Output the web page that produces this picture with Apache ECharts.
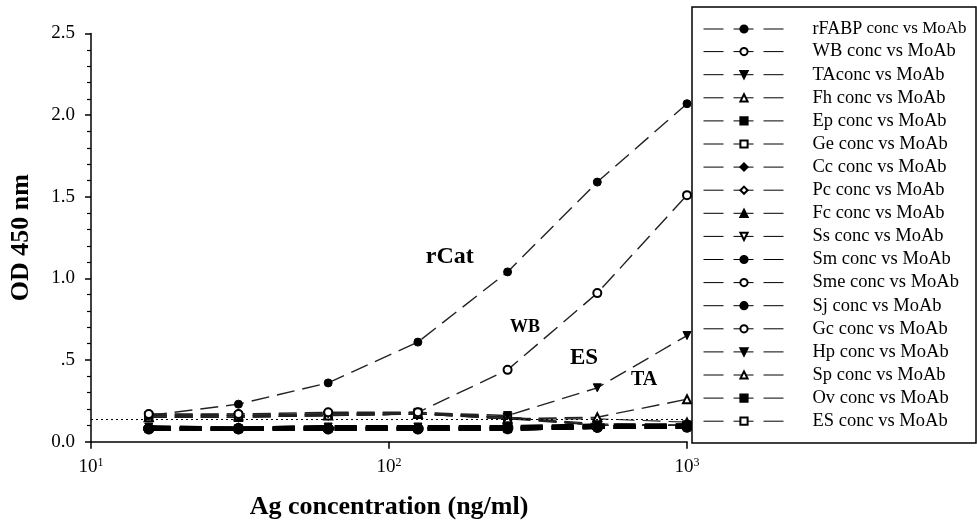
<!DOCTYPE html>
<html>
<head>
<meta charset="utf-8">
<script src="https://cdn.jsdelivr.net/npm/echarts@6/dist/echarts.min.js"></script>
<style>html,body{margin:0;padding:0;background:#fff}#c{width:977px;height:526px}</style>
</head>
<body>
<div id="c"></div>
<script>
// Ag concentrations (ng/ml), two-fold dilutions
const conc = [15.625, 31.25, 62.5, 125, 250, 500, 1000];
const xTicks = [10, 100, 1000];
const yTicks = [0, 0.5, 1.0, 1.5, 2.0, 2.5];
const cutoff = 0.14;

// OD 450 nm readings
const rFABP = [0.16, 0.23, 0.36, 0.61, 1.04, 1.59, 2.07];
const WB    = [0.17, 0.17, 0.18, 0.18, 0.44, 0.91, 1.51];
const TA    = [0.16, 0.16, 0.17, 0.18, 0.16, 0.33, 0.65];
const Fh    = [0.15, 0.16, 0.16, 0.17, 0.14, 0.15, 0.26];
const Ep    = [0.08, 0.08, 0.08, 0.08, 0.08, 0.09, 0.09];
const Ge    = [0.15, 0.15, 0.16, 0.17, 0.15, 0.10, 0.10];
const Cc    = [0.08, 0.08, 0.09, 0.08, 0.08, 0.09, 0.09];
const Pc    = [0.16, 0.16, 0.17, 0.17, 0.15, 0.10, 0.10];
const Fc    = [0.08, 0.08, 0.08, 0.08, 0.08, 0.09, 0.09];
const Ss    = [0.15, 0.15, 0.16, 0.17, 0.15, 0.10, 0.10];
const Sm    = [0.08, 0.08, 0.08, 0.08, 0.08, 0.09, 0.09];
const Sme   = [0.17, 0.16, 0.17, 0.18, 0.15, 0.11, 0.10];
const Sj    = [0.08, 0.08, 0.08, 0.08, 0.09, 0.09, 0.10];
const Gc    = [0.16, 0.17, 0.17, 0.18, 0.15, 0.10, 0.10];
const Hp    = [0.09, 0.08, 0.09, 0.09, 0.09, 0.10, 0.10];
const Sp    = [0.15, 0.15, 0.16, 0.17, 0.14, 0.14, 0.12];
const Ov    = [0.08, 0.08, 0.08, 0.08, 0.08, 0.09, 0.09];
const ES    = [0.15, 0.15, 0.16, 0.17, 0.14, 0.10, 0.10];

const names = ['rFABP conc vs MoAb','WB conc vs MoAb','TAconc vs MoAb','Fh conc vs MoAb','Ep conc vs MoAb','Ge conc vs MoAb','Cc conc vs MoAb','Pc conc vs MoAb','Fc conc vs MoAb','Ss conc vs MoAb','Sm conc vs MoAb','Sme conc vs MoAb','Sj conc vs MoAb','Gc conc vs MoAb','Hp conc vs MoAb','Sp conc vs MoAb','Ov conc vs MoAb','ES conc vs MoAb'];
const values = [rFABP, WB, TA, Fh, Ep, Ge, Cc, Pc, Fc, Ss, Sm, Sme, Sj, Gc, Hp, Sp, Ov, ES];

// annotation labels: text and data coordinates
const annText = ['rCat', 'WB', 'ES', 'TA'];
const annX = [160, 286, 451, 718];
const annY = [1.13, 0.70, 0.51, 0.38];

// styling per series
const sym = ['circle','emptyCircle','triangle','emptyTriangle','rect','emptyRect','diamond','emptyDiamond','triangle','emptyTriangle','circle','emptyCircle','circle','emptyCircle','triangle','emptyTriangle','rect','emptyRect'];
const rot = [0,0,180,0,0,0,0,0,0,180,0,0,0,0,180,0,0,0];
const low = [false,false,false,false,true,false,true,false,true,false,true,false,true,false,true,false,true,false];
const layer = [2.6,2.8,2.7,2.5,3,2,3,2,3,2,4,2,4,2,3,2,3,2];
const symSize = [8,8,8,8,7,7,8,7,8,7,10.5,7,10.5,7,8,7,7,7];

const F = '"Liberation Serif", "Times New Roman", serif';

const series = names.map((n, i) => {
  const s = {
    name: n,
    type: 'line',
    data: conc.map((x, j) => [x, values[i][j]]),
    symbol: sym[i],
    symbolRotate: rot[i],
    symbolSize: symSize[i],
    showSymbol: true,
    itemStyle: { color: '#000', borderColor: '#000', borderWidth: 1 },
    lineStyle: { color: low[i] ? '#000' : '#222', width: low[i] ? 4 : (i < 4 ? 1.4 : 1.1), type: low[i] ? [22, 9] : [18, 8] },
    z: layer[i],
    animation: false,
    silent: true
  };
  if (i === 0) {
    s.markLine = {
      silent: true, symbol: ['none','none'], animation: false,
      label: { show: false },
      lineStyle: { type: [2, 3], color: '#000', width: 1 },
      data: [{ yAxis: cutoff }]
    };
    s.markPoint = {
      symbol: 'circle', symbolSize: 0, animation: false,
      data: annText.map((t, k) => ({
        coord: [annX[k], annY[k]],
        label: { show: true, formatter: t, color: '#000', fontFamily: F, fontWeight: 'bold',
                 fontSize: [24, 18, 23, 20][k], position: 'inside' }
      }))
    };
  }
  return s;
});

const chart = echarts.init(document.getElementById('c'), null, { renderer: 'canvas' });
chart.setOption({
  backgroundColor: '#fff',
  animation: false,
  grid: { left: 91, right: 290, top: 33.5, bottom: 84.3, containLabel: false },
  xAxis: {
    type: 'log', logBase: 10, min: xTicks[0], max: xTicks[xTicks.length - 1],
    name: 'Ag concentration (ng/ml)', nameLocation: 'middle', nameGap: 53,
    nameTextStyle: { fontFamily: F, fontWeight: 'bold', fontSize: 26, color: '#000' },
    axisLine: { lineStyle: { color: '#000', width: 1.5 } },
    axisTick: { show: true, length: 7, lineStyle: { color: '#000', width: 1.5 } },
    minorTick: { show: false },
    splitLine: { show: false },
    axisLabel: {
      margin: 15, color: '#000', fontFamily: F, fontSize: 19,
      formatter: v => '10{s|' + Math.round(Math.log10(v)) + '}',
      rich: { s: { fontFamily: F, fontSize: 12, color: '#000', verticalAlign: 'bottom', padding: [0, 0, 8, 0] } }
    }
  },
  yAxis: {
    type: 'value', min: yTicks[0], max: yTicks[yTicks.length - 1], interval: 0.5,
    name: 'OD 450 nm', nameLocation: 'middle', nameGap: 57, nameRotate: 90,
    nameTextStyle: { fontFamily: F, fontWeight: 'bold', fontSize: 26, color: '#000' },
    axisLine: { show: true, lineStyle: { color: '#000', width: 1.5 } },
    axisTick: { show: true, length: 6, lineStyle: { color: '#000', width: 1.5 } },
    minorTick: { show: true, splitNumber: 5, length: 4, lineStyle: { color: '#000', width: 1.2 } },
    splitLine: { show: false },
    axisLabel: {
      margin: 16, color: '#000', fontFamily: F, fontSize: 19,
      formatter: v => (v === 0.5 ? '.5' : v.toFixed(1))
    }
  },
  legend: {
    show: true, orient: 'vertical', left: 703, top: 20,
    padding: 0, itemGap: 4.1, itemWidth: 81, itemHeight: 9,
    selectedMode: false, z: 10,
    data: names,
    lineStyle: { color: '#000', width: 1, type: [20, 10] },
    textStyle: { fontFamily: F, fontSize: 18.5, color: '#000', lineHeight: 18, padding: [0, 0, 0, 23],
      rich: { a: { fontFamily: F, fontSize: 18, color: '#000', lineHeight: 18 },
              b: { fontFamily: F, fontSize: 17, color: '#000', lineHeight: 18 } } },
    formatter: n => n === names[0] ? '{a|rFABP}{b| conc vs MoAb}' : n
  },
  graphic: [{
    type: 'rect', z: 8, silent: true,
    shape: { x: 692, y: 7, width: 284, height: 436 },
    style: { fill: '#fff', stroke: '#000', lineWidth: 1.5 }
  }],
  series: series
});
</script>
</body>
</html>
